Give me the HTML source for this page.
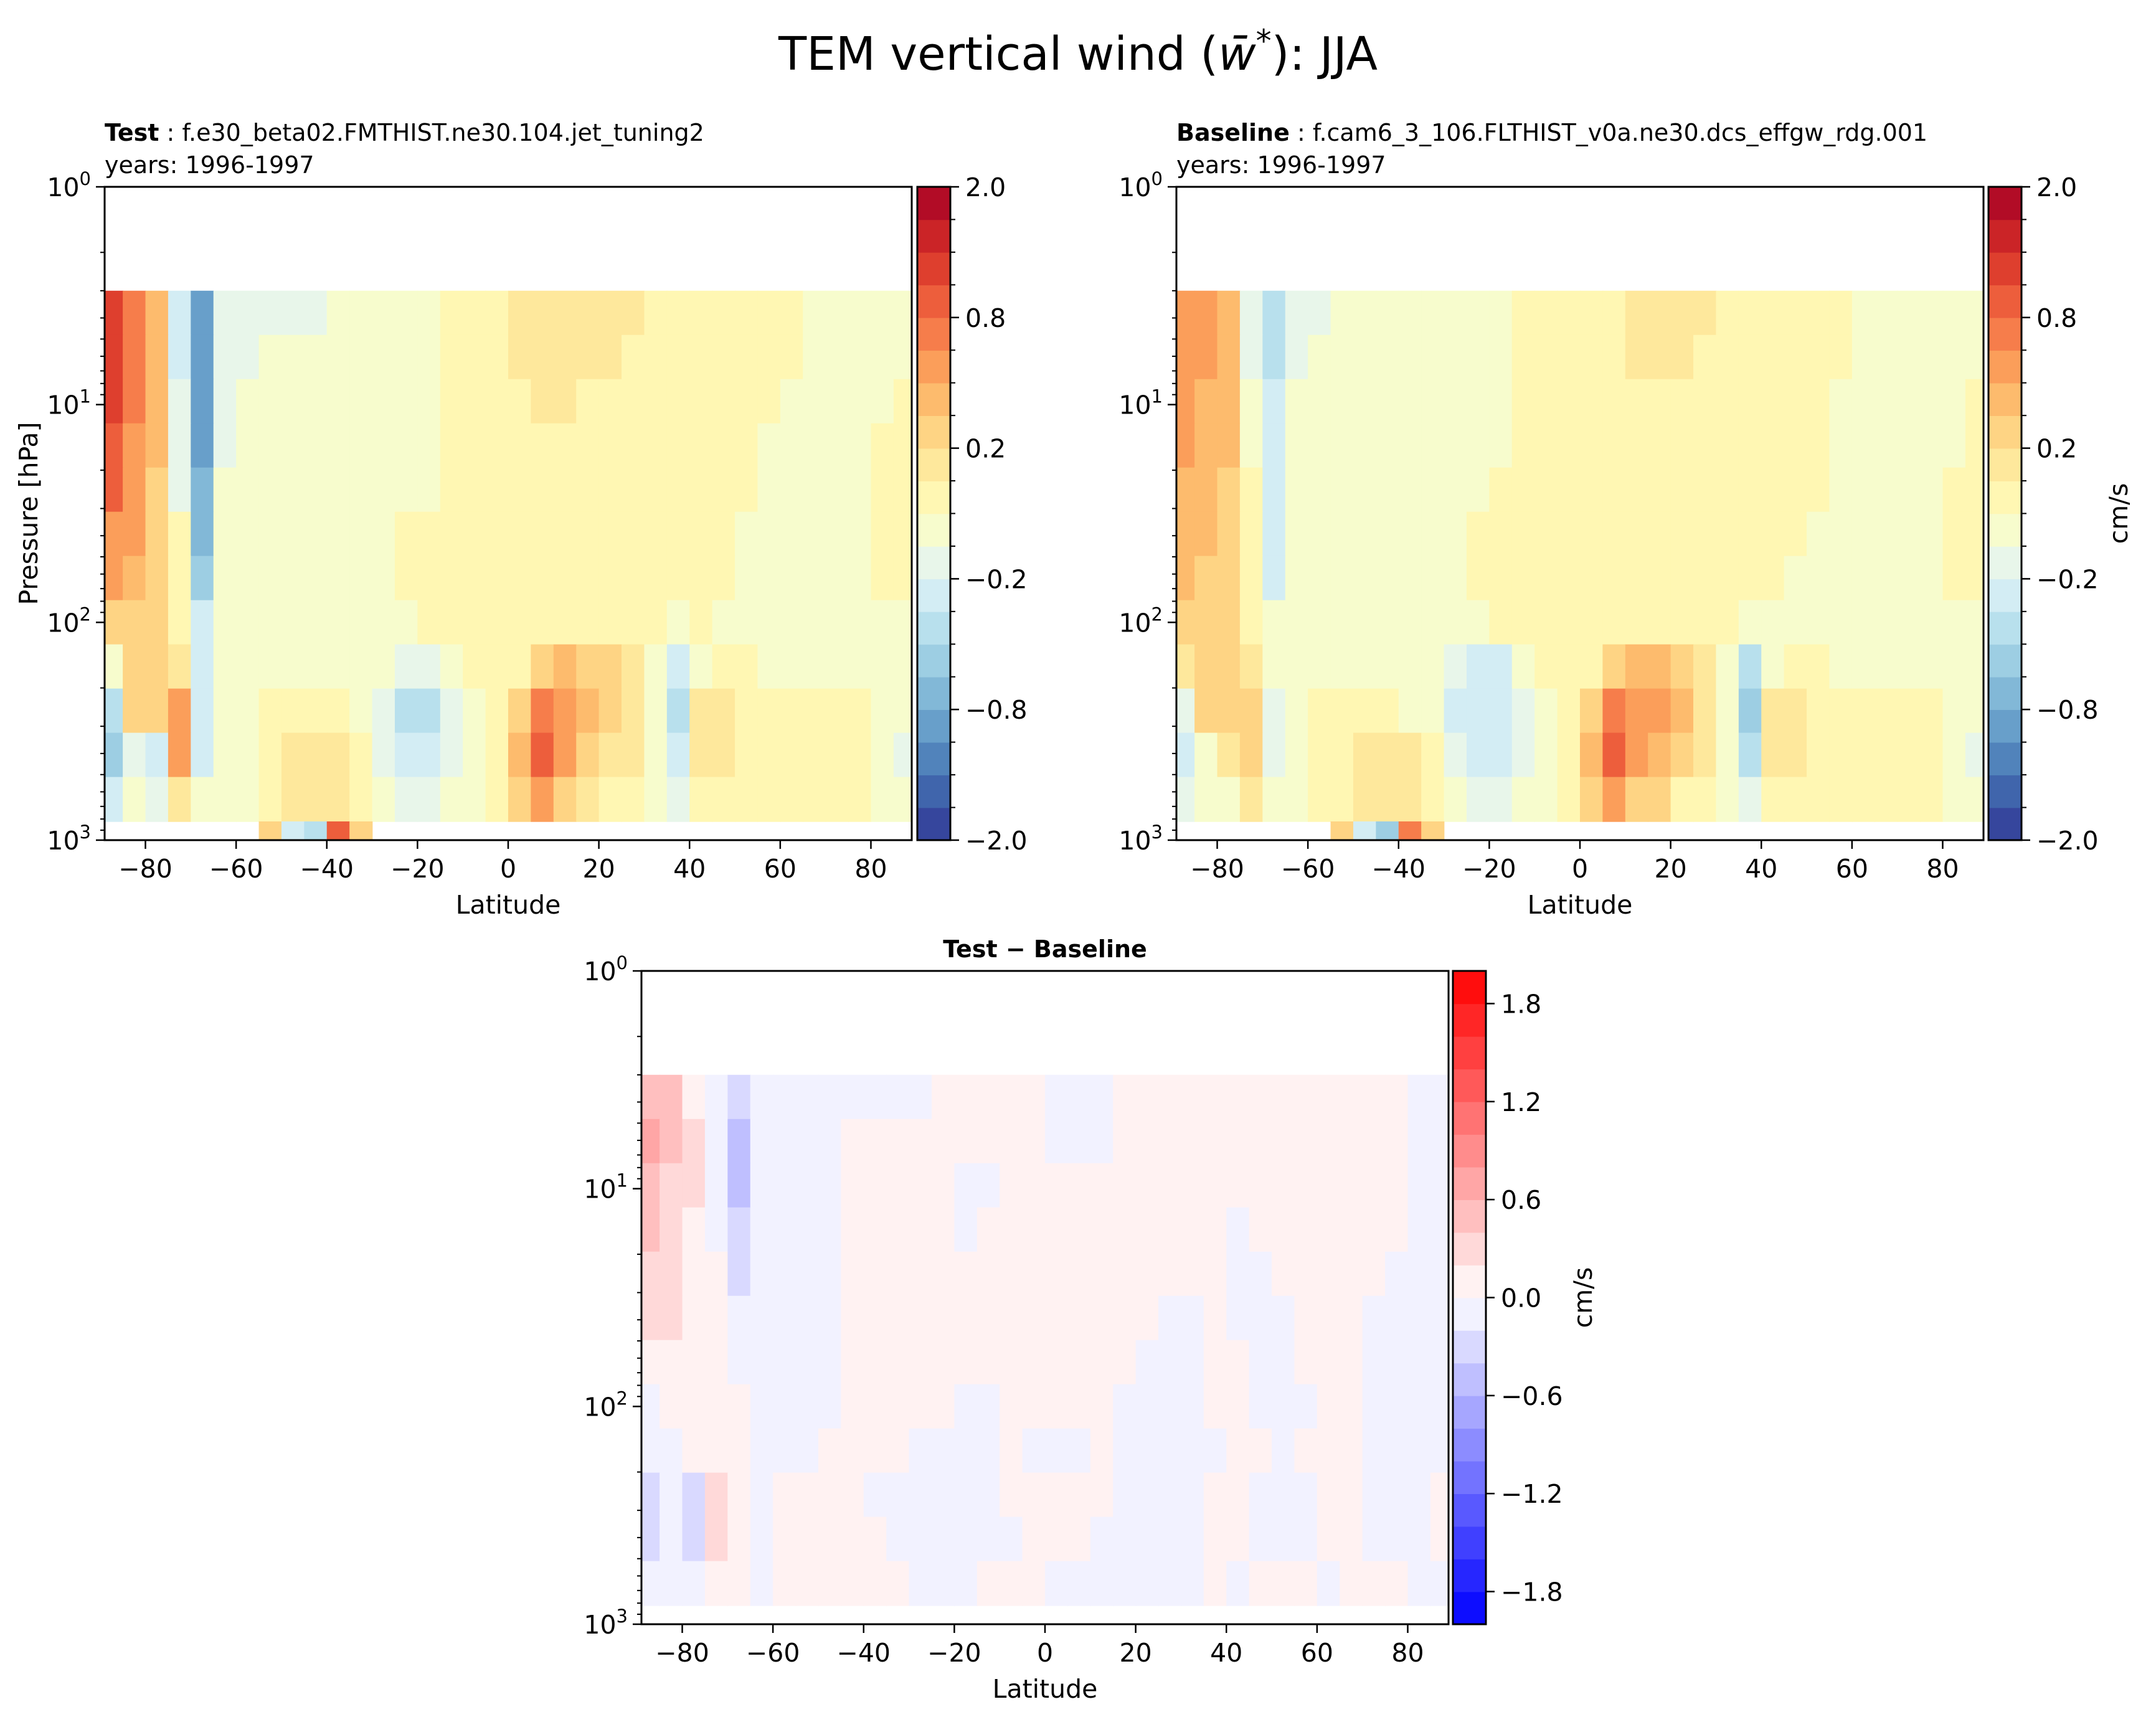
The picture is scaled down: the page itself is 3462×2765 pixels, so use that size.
<!DOCTYPE html>
<html><head><meta charset="utf-8">
<style>
html,body{margin:0;padding:0;background:#fff;}
svg{display:block;font-family:"DejaVu Sans","Liberation Sans",sans-serif;}
</style></head>
<body>
<svg id="fig" width="3462" height="2765" viewBox="0 0 3462 2765" xmlns="http://www.w3.org/2000/svg">
<rect width="3462" height="2765" fill="#fff"/>
<text x="1731" y="112" font-size="74" text-anchor="middle">TEM vertical wind (<tspan font-style="italic">w̄</tspan><tspan baseline-shift="super" font-size="50">*</tspan>): JJA</text>
<g id="panels"></g>
</svg>
<script>
// ---- data: latitude columns (cell centers) ----
const lats = [-87.5,-82.5,-77.5,-72.5,-67.5,-62.5,-57.5,-52.5,-47.5,-42.5,-37.5,-32.5,-27.5,-22.5,-17.5,-12.5,-7.5,-2.5,2.5,7.5,12.5,17.5,22.5,27.5,32.5,37.5,42.5,47.5,52.5,57.5,62.5,67.5,72.5,77.5,82.5,87.5];
// log10 pressure band edges (hPa)
const logpEdges = [0.477,0.680,0.883,1.086,1.289,1.492,1.695,1.898,2.101,2.304,2.507,2.710,2.914];
const xTicks = [-80,-60,-40,-20,0,20,40,60,80];
const yTickExp = [0,1,2,3];
const fullLevels = [-2,-1.6,-1.3,-1,-0.8,-0.65,-0.5,-0.35,-0.2,-0.1,0,0.1,0.2,0.35,0.5,0.65,0.8,1,1.3,1.6,2];
const fullTickLabels = ["2.0","0.8","0.2","\u22120.2","\u22120.8","\u22122.0"];
const fullTickValues = [2,0.8,0.2,-0.2,-0.8,-2];
const diffLevels = [-2,-1.8,-1.6,-1.4,-1.2,-1,-0.8,-0.6,-0.4,-0.2,0,0.2,0.4,0.6,0.8,1,1.2,1.4,1.6,1.8,2];
const diffTickValues = [1.8,1.2,0.6,0,-0.6,-1.2,-1.8];
const diffTickLabels = ["1.8","1.2","0.6","0.0","\u22120.6","\u22121.2","\u22121.8"];

const testRows = [
[1.1,0.7,0.35,-0.3,-0.9,-0.15,-0.15,-0.15,-0.15,-0.15,-0.05,-0.05,-0.05,-0.05,-0.05,0.05,0.05,0.05,0.12,0.12,0.12,0.12,0.12,0.12,0.05,0.05,0.05,0.05,0.05,0.05,0.05,-0.05,-0.05,-0.05,-0.05,-0.05],
[1.1,0.7,0.35,-0.3,-0.95,-0.15,-0.15,-0.1,-0.05,-0.05,-0.05,-0.05,-0.05,-0.05,-0.05,0.05,0.05,0.05,0.12,0.12,0.12,0.12,0.12,0.05,0.05,0.05,0.05,0.05,0.05,0.05,0.05,-0.05,-0.05,-0.05,-0.05,-0.05],
[1.0,0.7,0.35,-0.2,-0.9,-0.12,-0.05,-0.05,-0.05,-0.05,-0.05,-0.05,-0.05,-0.05,-0.05,0.05,0.05,0.05,0.05,0.12,0.12,0.05,0.05,0.05,0.05,0.05,0.05,0.05,0.05,0.05,-0.05,-0.05,-0.05,-0.05,-0.05,0.05],
[0.9,0.6,0.35,-0.2,-0.85,-0.12,-0.05,-0.05,-0.05,-0.05,-0.05,-0.05,-0.05,-0.05,-0.05,0.05,0.05,0.05,0.05,0.05,0.05,0.05,0.05,0.05,0.05,0.05,0.05,0.05,0.05,-0.05,-0.05,-0.05,-0.05,-0.05,0.05,0.05],
[0.8,0.6,0.3,-0.15,-0.8,-0.1,-0.05,-0.05,-0.05,-0.05,-0.05,-0.05,-0.05,-0.05,-0.05,0.05,0.05,0.05,0.05,0.05,0.05,0.05,0.05,0.05,0.05,0.05,0.05,0.05,0.05,-0.05,-0.05,-0.05,-0.05,-0.05,0.05,0.05],
[0.6,0.5,0.3,0.05,-0.7,-0.1,-0.05,-0.05,-0.05,-0.05,-0.05,-0.05,-0.05,0.05,0.05,0.05,0.05,0.05,0.05,0.05,0.05,0.05,0.05,0.05,0.05,0.05,0.05,0.05,-0.05,-0.05,-0.05,-0.05,-0.05,-0.05,0.05,0.05],
[0.5,0.4,0.25,0.05,-0.55,-0.08,-0.05,-0.05,-0.05,-0.05,-0.05,-0.05,-0.05,0.05,0.05,0.05,0.05,0.05,0.05,0.05,0.05,0.05,0.05,0.05,0.05,0.05,0.05,0.05,-0.05,-0.05,-0.05,-0.05,-0.05,-0.05,0.05,0.05],
[0.3,0.3,0.2,0.05,-0.3,-0.05,-0.05,-0.05,-0.05,-0.05,-0.05,-0.05,-0.05,-0.05,0.05,0.05,0.05,0.05,0.05,0.05,0.05,0.05,0.05,0.05,0.05,-0.1,0.05,-0.05,-0.05,-0.05,-0.05,-0.05,-0.05,-0.05,-0.05,-0.05],
[-0.1,0.3,0.3,0.15,-0.25,-0.05,-0.05,-0.05,-0.05,-0.05,-0.05,-0.05,-0.1,-0.2,-0.2,-0.1,0.05,0.05,0.05,0.3,0.4,0.3,0.3,0.15,-0.05,-0.35,-0.1,0.05,0.05,-0.05,-0.05,-0.05,-0.05,-0.05,-0.05,-0.05],
[-0.5,0.2,0.3,0.5,-0.3,-0.05,-0.05,0.05,0.05,0.05,0.05,-0.05,-0.2,-0.4,-0.4,-0.2,-0.05,0.05,0.3,0.7,0.6,0.4,0.3,0.15,-0.1,-0.45,0.1,0.12,0.05,0.05,0.05,0.05,0.05,0.05,-0.05,-0.1],
[-0.6,-0.2,-0.3,0.6,-0.3,-0.05,-0.05,0.05,0.12,0.15,0.12,0.05,-0.2,-0.35,-0.35,-0.2,-0.05,0.05,0.4,0.8,0.5,0.3,0.15,0.12,-0.1,-0.3,0.1,0.12,0.05,0.05,0.05,0.05,0.05,0.05,-0.05,-0.15],
[-0.3,-0.1,-0.2,0.1,-0.1,-0.05,-0.05,0.05,0.12,0.15,0.15,0.05,-0.1,-0.2,-0.2,-0.1,-0.05,0.05,0.3,0.5,0.3,0.15,0.05,0.05,-0.05,-0.15,0.05,0.05,0.05,0.05,0.05,0.05,0.05,0.05,-0.05,-0.1]
];
const baseRows = [
[0.6,0.5,0.4,-0.2,-0.4,-0.15,-0.15,-0.1,-0.1,-0.1,-0.1,-0.05,-0.05,-0.05,-0.05,0.05,0.05,0.05,0.05,0.05,0.12,0.12,0.12,0.12,0.05,0.05,0.05,0.05,0.05,0.05,-0.05,-0.05,-0.05,-0.05,-0.05,-0.05],
[0.6,0.5,0.4,-0.2,-0.4,-0.15,-0.1,-0.05,-0.05,-0.05,-0.05,-0.05,-0.05,-0.05,-0.05,0.05,0.05,0.05,0.05,0.05,0.12,0.12,0.12,0.05,0.05,0.05,0.05,0.05,0.05,0.05,-0.05,-0.05,-0.05,-0.05,-0.05,-0.05],
[0.5,0.45,0.35,-0.1,-0.35,-0.05,-0.05,-0.05,-0.05,-0.05,-0.05,-0.05,-0.05,-0.05,-0.05,0.05,0.05,0.05,0.05,0.05,0.05,0.05,0.05,0.05,0.05,0.05,0.05,0.05,0.05,-0.05,-0.05,-0.05,-0.05,-0.05,-0.05,0.05],
[0.5,0.4,0.35,-0.1,-0.3,-0.05,-0.05,-0.05,-0.05,-0.05,-0.05,-0.05,-0.05,-0.05,-0.05,0.05,0.05,0.05,0.05,0.05,0.05,0.05,0.05,0.05,0.05,0.05,0.05,0.05,0.05,-0.05,-0.05,-0.05,-0.05,-0.05,-0.05,0.05],
[0.45,0.4,0.3,0.05,-0.3,-0.05,-0.05,-0.05,-0.05,-0.05,-0.05,-0.05,-0.05,-0.05,0.05,0.05,0.05,0.05,0.05,0.05,0.05,0.05,0.05,0.05,0.05,0.05,0.05,0.05,0.05,-0.05,-0.05,-0.05,-0.05,-0.05,0.05,0.05],
[0.4,0.35,0.3,0.05,-0.3,-0.05,-0.05,-0.05,-0.05,-0.05,-0.05,-0.05,-0.05,0.05,0.05,0.05,0.05,0.05,0.05,0.05,0.05,0.05,0.05,0.05,0.05,0.05,0.05,0.05,-0.05,-0.05,-0.05,-0.05,-0.05,-0.05,0.05,0.05],
[0.35,0.3,0.3,0.05,-0.25,-0.05,-0.05,-0.05,-0.05,-0.05,-0.05,-0.05,-0.05,0.05,0.05,0.05,0.05,0.05,0.05,0.05,0.05,0.05,0.05,0.05,0.05,0.05,0.05,-0.05,-0.05,-0.05,-0.05,-0.05,-0.05,-0.05,0.05,0.05],
[0.3,0.3,0.2,0.05,-0.1,-0.05,-0.05,-0.05,-0.05,-0.05,-0.05,-0.05,-0.05,-0.05,0.05,0.05,0.05,0.05,0.05,0.05,0.05,0.05,0.05,0.05,0.05,-0.1,-0.05,-0.05,-0.05,-0.05,-0.05,-0.05,-0.05,-0.05,-0.05,-0.05],
[0.1,0.3,0.3,0.1,-0.1,-0.05,-0.05,-0.05,-0.05,-0.05,-0.05,-0.05,-0.15,-0.25,-0.25,-0.1,0.05,0.05,0.05,0.3,0.4,0.45,0.3,0.15,-0.05,-0.4,-0.1,0.05,0.05,-0.05,-0.05,-0.05,-0.05,-0.05,-0.05,-0.05],
[-0.2,0.3,0.3,0.3,-0.2,-0.05,0.05,0.05,0.05,0.05,-0.05,-0.05,-0.25,-0.35,-0.35,-0.2,-0.05,0.05,0.3,0.7,0.6,0.5,0.35,0.15,-0.1,-0.6,0.1,0.12,0.05,0.05,0.05,0.05,0.05,0.05,-0.05,-0.1],
[-0.3,-0.1,0.1,0.3,-0.2,-0.05,0.05,0.05,0.1,0.12,0.12,0.05,-0.2,-0.35,-0.35,-0.2,-0.05,0.05,0.4,0.8,0.5,0.4,0.2,0.12,-0.1,-0.45,0.1,0.12,0.05,0.05,0.05,0.05,0.05,0.05,-0.05,-0.15],
[-0.2,-0.1,-0.1,0.1,-0.1,-0.05,0.05,0.05,0.1,0.15,0.15,0.05,-0.1,-0.2,-0.2,-0.1,-0.05,0.05,0.3,0.5,0.3,0.2,0.05,0.05,-0.05,-0.2,0.05,0.05,0.05,0.05,0.05,0.05,0.05,0.05,-0.05,-0.1]
];
const diffRows = [
[0.5,0.4,0.1,-0.1,-0.4,-0.1,-0.1,-0.1,-0.1,-0.1,-0.1,-0.1,-0.1,0.1,0.1,0.1,0.1,0.1,-0.1,-0.1,-0.1,0.1,0.1,0.1,0.1,0.1,0.1,0.1,0.1,0.1,0.1,0.1,0.1,0.1,-0.1,-0.1],
[0.6,0.4,0.2,-0.1,-0.5,-0.1,-0.1,-0.1,-0.1,0.1,0.1,0.1,0.1,0.1,0.1,0.1,0.1,0.1,-0.1,-0.1,-0.1,0.1,0.1,0.1,0.1,0.1,0.1,0.1,0.1,0.1,0.1,0.1,0.1,0.1,-0.1,-0.1],
[0.5,0.3,0.2,-0.1,-0.5,-0.1,-0.1,-0.1,-0.1,0.1,0.1,0.1,0.1,0.1,-0.1,-0.1,0.1,0.1,0.1,0.1,0.1,0.1,0.1,0.1,0.1,0.1,0.1,0.1,0.1,0.1,0.1,0.1,0.1,0.1,-0.1,-0.1],
[0.4,0.3,0.1,-0.1,-0.4,-0.1,-0.1,-0.1,-0.1,0.1,0.1,0.1,0.1,0.1,-0.1,0.1,0.1,0.1,0.1,0.1,0.1,0.1,0.1,0.1,0.1,0.1,-0.1,0.1,0.1,0.1,0.1,0.1,0.1,0.1,-0.1,-0.1],
[0.3,0.2,0.1,0.1,-0.3,-0.1,-0.1,-0.1,-0.1,0.1,0.1,0.1,0.1,0.1,0.1,0.1,0.1,0.1,0.1,0.1,0.1,0.1,0.1,0.1,0.1,0.1,-0.1,-0.1,0.1,0.1,0.1,0.1,0.1,-0.1,-0.1,-0.1],
[0.2,0.2,0.1,0.1,-0.2,-0.1,-0.1,-0.1,-0.1,0.1,0.1,0.1,0.1,0.1,0.1,0.1,0.1,0.1,0.1,0.1,0.1,0.1,0.1,-0.1,-0.1,0.1,-0.1,-0.1,-0.1,0.1,0.1,0.1,-0.1,-0.1,-0.1,-0.1],
[0.1,0.1,0.1,0.1,-0.2,-0.1,-0.1,-0.1,-0.1,0.1,0.1,0.1,0.1,0.1,0.1,0.1,0.1,0.1,0.1,0.1,0.1,0.1,-0.1,-0.1,-0.1,0.1,0.1,-0.1,-0.1,0.1,0.1,0.1,-0.1,-0.1,-0.1,-0.1],
[-0.1,0.1,0.1,0.1,0.1,-0.1,-0.1,-0.1,-0.1,0.1,0.1,0.1,0.1,0.1,-0.1,-0.1,0.1,0.1,0.1,0.1,0.1,-0.1,-0.1,-0.1,-0.1,0.1,0.1,-0.1,-0.1,-0.1,0.1,0.1,-0.1,-0.1,-0.1,-0.1],
[-0.1,-0.1,0.1,0.1,0.1,-0.1,-0.1,-0.1,0.1,0.1,0.1,0.1,-0.1,-0.1,-0.1,-0.1,0.1,-0.1,-0.1,-0.1,0.1,-0.1,-0.1,-0.1,-0.1,-0.1,0.1,0.1,-0.1,0.1,0.1,0.1,-0.1,-0.1,-0.1,-0.1],
[-0.3,-0.1,-0.3,0.2,0.1,-0.1,0.1,0.1,0.1,0.1,-0.1,-0.1,-0.1,-0.1,-0.1,-0.1,0.1,0.1,0.1,0.1,0.1,-0.1,-0.1,-0.2,-0.1,0.1,0.1,-0.1,-0.1,-0.1,0.1,0.1,-0.1,-0.1,-0.1,0.1],
[-0.3,-0.1,-0.3,0.3,0.1,-0.1,0.1,0.1,0.1,0.1,0.1,-0.1,-0.1,-0.1,-0.1,-0.1,-0.1,0.1,0.1,0.1,-0.1,-0.1,-0.1,-0.1,-0.1,0.1,0.1,-0.1,-0.1,-0.1,0.1,0.1,-0.1,-0.1,-0.1,0.1],
[-0.1,-0.1,-0.1,0.1,0.1,-0.1,0.1,0.1,0.1,0.1,0.1,0.1,-0.1,-0.1,-0.1,0.1,0.1,0.1,-0.1,-0.1,-0.1,-0.1,-0.1,-0.1,-0.1,0.1,-0.1,0.1,0.1,0.1,-0.1,0.1,0.1,0.1,-0.1,-0.1]
];
// surface band (820-1000 hPa) values, only some columns have data
const surfLats = [-52.5,-47.5,-42.5,-37.5,-32.5];
const testSurf = [0.3,-0.3,-0.5,0.8,0.3];
const baseSurf = [0.2,-0.3,-0.6,0.7,0.2];

const NS = "http://www.w3.org/2000/svg";
const RdYlBu = ["#313695","#4575b4","#74add1","#abd9e9","#e0f3f8","#ffffbf","#fee090","#fdae61","#f46d43","#d73027","#a50026"];
function hex2rgb(h){return [1,3,5].map(i=>parseInt(h.substr(i,2),16));}
function rdylbu(t){
  const s=t*(RdYlBu.length-1); const i=Math.min(Math.floor(s),RdYlBu.length-2); const f=s-i;
  const a=hex2rgb(RdYlBu[i]), b=hex2rgb(RdYlBu[i+1]);
  return "rgb("+a.map((v,k)=>Math.round(v+(b[k]-v)*f)).join(",")+")";
}
function bwr(t){
  if(t<0.5){const u=t*2;return "rgb("+Math.round(255*u)+","+Math.round(255*u)+",255)";}
  const u=(1-t)*2;return "rgb(255,"+Math.round(255*u)+","+Math.round(255*u)+")";
}
function bandIndex(levels,v){
  for(let i=0;i<levels.length-1;i++){ if(v<levels[i+1]) return i; }
  return levels.length-2;
}
function el(tag,attrs,parent){
  const e=document.createElementNS(NS,tag);
  for(const k in attrs) e.setAttribute(k,attrs[k]);
  if(parent) parent.appendChild(e);
  return e;
}
const root=document.getElementById("panels");

function drawPanel(P){
  const g=el("g",{},root);
  
  
  const x0=P.x0,x1=P.x1,y0=P.y0,y1=P.y1;
  const xs=v=>x0+(v+89)/178*(x1-x0);
  const ys=lp=>y0+lp/3*(y1-y0);
  const nb=P.levels.length-1;
  const color=v=>P.cmap((bandIndex(P.levels,v)+0.5)/nb);
  const cells=el("g",{},g);
  
  
  const dlat=5;
  P.rows.forEach((row,r)=>{
    row.forEach((v,c)=>{
      const xa=Math.max(x0,xs(lats[c]-dlat/2)), xb=Math.min(x1,xs(lats[c]+dlat/2));
      const rc=el("rect",{x:xa,y:ys(logpEdges[r]),width:xb-xa+0.8,height:ys(logpEdges[r+1])-ys(logpEdges[r])+0.8,fill:color(v)},cells);
      
      
    });
  });
  if(P.surf){
    P.surf.forEach((v,i)=>{
      const rc=el("rect",{x:xs(surfLats[i]-dlat/2),y:ys(logpEdges[logpEdges.length-1]),width:xs(surfLats[i]+dlat/2)-xs(surfLats[i]-dlat/2)+0.8,height:ys(3)-ys(logpEdges[logpEdges.length-1]),fill:color(v)},cells);
      
      
    });
  }
  const fr=el("rect",{x:x0,y:y0,width:x1-x0,height:y1-y0,fill:"none",stroke:"#000","stroke-width":3},g);
  
  
  xTicks.forEach(t=>{
    const X=xs(t);
    el("line",{x1:X,x2:X,y1:y1,y2:y1+14,stroke:"#000","stroke-width":2.5},g);
    const tx=el("text",{x:X,y:y1+60,"font-size":41,"text-anchor":"middle"},g);
    tx.textContent=(t<0?"\u2212":"")+Math.abs(t);
    
    
  });
  yTickExp.forEach(e=>{
    const Y=ys(e);
    el("line",{x1:x0-14,x2:x0,y1:Y,y2:Y,stroke:"#000","stroke-width":2.5},g);
    const tx=el("text",{x:x0-22,y:Y+15,"font-size":41,"text-anchor":"end"},g);
    
    
    const a=el("tspan",{},tx); a.textContent="10";
    const b=el("tspan",{"font-size":29,dy:-18}); b.textContent=String(e); tx.appendChild(b);
    if(e<3){for(let k=2;k<=9;k++){const yy=ys(e+Math.log10(k));el("line",{x1:x0-7,x2:x0,y1:yy,y2:yy,stroke:"#000","stroke-width":2},g);}}
  });
  const xl=el("text",{x:(x0+x1)/2,y:y1+118,"font-size":41,"text-anchor":"middle"},g);
  xl.textContent="Latitude";
  
  
  if(P.ylabel){
    const yl=el("text",{x:0,y:0,"font-size":41,"text-anchor":"middle",transform:"translate(60,"+((y0+y1)/2)+") rotate(-90)"},g);
    yl.textContent=P.ylabel;
    
    
  }
  const cx0=P.cbx, cx1=P.cbx+53;
  const cb=el("g",{},g);
  
  
  const bh=(y1-y0)/nb;
  for(let i=0;i<nb;i++){
    el("rect",{x:cx0,y:y1-(i+1)*bh,width:cx1-cx0,height:bh+0.8,fill:P.cmap((i+0.5)/nb)},cb);
    if(P.minor) el("line",{x1:cx1,x2:cx1+8,y1:y1-i*bh,y2:y1-i*bh,stroke:"#000","stroke-width":2},cb);
  }
  el("rect",{x:cx0,y:y0,width:cx1-cx0,height:y1-y0,fill:"none",stroke:"#000","stroke-width":3},cb);
  const vpos=v=>{const i=bandIndex(P.levels,v); const f=(v-P.levels[i])/(P.levels[i+1]-P.levels[i]); return y1-(i+f)*bh;};
  P.tickValues.forEach((v,i)=>{
    const Y=vpos(v);
    el("line",{x1:cx1,x2:cx1+14,y1:Y,y2:Y,stroke:"#000","stroke-width":2.5},cb);
    const tx=el("text",{x:cx1+24,y:Y+15,"font-size":41},cb);
    tx.textContent=P.tickLabels[i];
    
    
  });
  if(P.cblabel){
    const cl=el("text",{x:0,y:0,"font-size":41,"text-anchor":"middle",transform:"translate("+(cx1+170)+","+((y0+y1)/2)+") rotate(-90)"},cb);
    cl.textContent="cm/s";
    
    
  }
  if(P.bold){
    const t1=el("text",{x:x0,y:y0-74,"font-size":38},g);
    
    
    const b=el("tspan",{"font-weight":"bold"},t1); b.textContent=P.bold;
    const r=el("tspan",{},t1); r.textContent=" : "+P.case;
    const t2=el("text",{x:x0,y:y0-22,"font-size":38},g);
    t2.textContent="years: 1996-1997";
    
    
  } else {
    const t1=el("text",{x:(x0+x1)/2,y:y0-22,"font-size":38,"font-weight":"bold","text-anchor":"middle"},g);
    t1.textContent="Test \u2212 Baseline";
    
    
  }
}

drawPanel({name:"test-panel",x0:168,x1:1464,y0:300,y1:1349,rows:testRows,surf:testSurf,levels:fullLevels,cmap:rdylbu,cbx:1473,minor:true,tickValues:fullTickValues,tickLabels:fullTickLabels,ylabel:"Pressure [hPa]",bold:"Test",case:"f.e30_beta02.FMTHIST.ne30.104.jet_tuning2"});
drawPanel({name:"baseline-panel",x0:1889,x1:3185,y0:300,y1:1349,rows:baseRows,surf:baseSurf,levels:fullLevels,cmap:rdylbu,cbx:3193,minor:true,tickValues:fullTickValues,tickLabels:fullTickLabels,cblabel:true,bold:"Baseline",case:"f.cam6_3_106.FLTHIST_v0a.ne30.dcs_effgw_rdg.001"});
drawPanel({name:"difference-panel",x0:1030,x1:2326,y0:1559,y1:2608,rows:diffRows,levels:diffLevels,cmap:bwr,cbx:2333,minor:false,tickValues:diffTickValues,tickLabels:diffTickLabels,cblabel:true});
</script>
</body></html>
